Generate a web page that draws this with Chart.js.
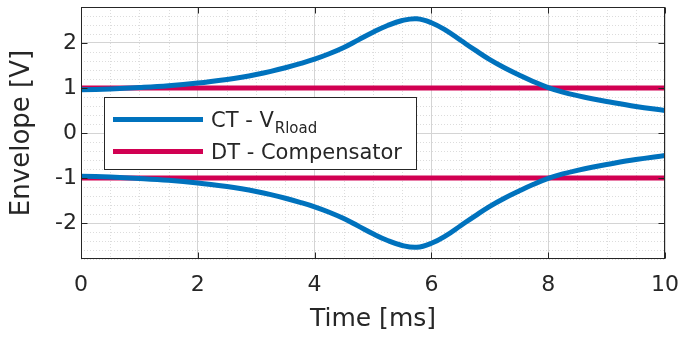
<!DOCTYPE html>
<html><head><meta charset="utf-8">
<script src="https://cdn.jsdelivr.net/npm/chart.js@4"></script>
<style>html,body{margin:0;padding:0;background:#fff}canvas{display:block}</style>
</head><body>
<canvas id="c" width="680" height="337"></canvas>
<script>
// ---- data ----
const timeMs  = [0, 0.5, 1, 1.5, 2, 2.5, 2.75, 3, 3.25, 3.5, 3.75, 4, 4.25, 4.5, 4.75, 5, 5.25, 5.5, 5.75, 6, 6.25, 6.5, 6.75, 7, 7.25, 7.5, 7.75, 8, 8.25, 8.5, 8.75, 9, 9.5, 10];
const ctUpper = [0.96, 0.98, 1.01, 1.05, 1.11, 1.19, 1.24, 1.30, 1.37, 1.45, 1.54, 1.64, 1.76, 1.90, 2.07, 2.24, 2.39, 2.50, 2.54, 2.45, 2.28, 2.06, 1.84, 1.63, 1.45, 1.29, 1.14, 1.01, 0.91, 0.83, 0.76, 0.70, 0.59, 0.50];
const ctLower = [-0.96, -0.98, -1.01, -1.05, -1.11, -1.19, -1.24, -1.30, -1.37, -1.45, -1.54, -1.64, -1.76, -1.90, -2.07, -2.24, -2.39, -2.50, -2.54, -2.45, -2.28, -2.06, -1.84, -1.63, -1.45, -1.29, -1.14, -1.01, -0.91, -0.83, -0.76, -0.70, -0.59, -0.50];
const dtTime  = [0, 10];
const dtUpper = [1, 1];
const dtLower = [-1, -1];
const xTicks = [0, 2, 4, 6, 8, 10];
const yTicks = [-2, -1, 0, 1, 2];
const xRange = [0, 10];
const yRange = [-2.8, 2.8];
const xMinorStep = 0.5, yMinorStep = 0.2;
const legendMain = ['CT - V', 'DT - Compensator'];
const legendSub  = ['Rload', ''];
const xTitle = 'Time [ms]';
const yTitle = 'Envelope [V]';

// ---- styles ----
const FONT = '"DejaVu Sans", sans-serif';
const TXT = '#262626';
const BLUE = 'rgb(0,114,189)';
const RED  = 'rgb(209,0,82)';

const pts = (xs, ys) => xs.map((x, i) => ({x: x, y: ys[i]}));

const minorGrid = {
  id: 'minorGrid',
  beforeDatasetsDraw(chart) {
    const {ctx, chartArea: a, scales: {x, y}} = chart;
    ctx.save();
    ctx.strokeStyle = '#dcdcdc';
    ctx.lineWidth = 1;
    ctx.setLineDash([1, 2]);
    const nx = Math.round((x.max - x.min) / xMinorStep);
    for (let i = 0; i <= nx; i++) {
      const v = x.min + i * xMinorStep;
      if (xTicks.some(t => Math.abs(t - v) < 1e-6)) continue;
      const p = Math.round(x.getPixelForValue(v)) + 0.5;
      ctx.beginPath(); ctx.moveTo(p, a.top); ctx.lineTo(p, a.bottom); ctx.stroke();
    }
    const ny = Math.round((y.max - y.min) / yMinorStep);
    for (let i = 0; i <= ny; i++) {
      const v = y.min + i * yMinorStep;
      if (yTicks.some(t => Math.abs(t - v) < 1e-6)) continue;
      const p = Math.round(y.getPixelForValue(v)) + 0.5;
      ctx.beginPath(); ctx.moveTo(a.left, p); ctx.lineTo(a.right, p); ctx.stroke();
    }
    ctx.restore();
  }
};

const frameAndLegend = {
  id: 'frameAndLegend',
  afterDraw(chart) {
    const {ctx, chartArea: a, scales: {x, y}} = chart;
    ctx.save();
    ctx.strokeStyle = TXT;
    ctx.lineWidth = 1;
    const L = Math.round(a.left) + 0.5, R = Math.round(a.right) - 0.5;
    const T = Math.round(a.top) + 0.5, B = Math.round(a.bottom) - 0.5;
    ctx.strokeRect(L, T, R - L, B - T);
    const tl = 6;
    ctx.beginPath();
    xTicks.forEach(v => {
      const p = Math.round(x.getPixelForValue(v)) + 0.5;
      ctx.moveTo(p, B); ctx.lineTo(p, B - tl);
      ctx.moveTo(p, T); ctx.lineTo(p, T + tl);
    });
    yTicks.forEach(v => {
      const p = Math.round(y.getPixelForValue(v)) + 0.5;
      ctx.moveTo(L, p); ctx.lineTo(L + tl, p);
      ctx.moveTo(R, p); ctx.lineTo(R - tl, p);
    });
    ctx.stroke();

    // legend
    const bx = 104.5, by = 97.5, bw = 312, bh = 72;
    ctx.fillStyle = '#fff';
    ctx.fillRect(bx, by, bw, bh);
    ctx.strokeStyle = TXT;
    ctx.strokeRect(bx, by, bw, bh);
    const colors = [BLUE, RED];
    const rows = [119.5, 151.5];
    rows.forEach((ry, i) => {
      ctx.strokeStyle = colors[i];
      ctx.lineWidth = 5;
      ctx.beginPath(); ctx.moveTo(113, ry); ctx.lineTo(203, ry); ctx.stroke();
      ctx.fillStyle = TXT;
      ctx.textBaseline = 'alphabetic';
      ctx.textAlign = 'left';
      ctx.font = '21px ' + FONT;
      ctx.fillText(legendMain[i], 211, ry + 7.5);
      if (legendSub[i]) {
        const w = ctx.measureText(legendMain[i]).width;
        ctx.font = '15px ' + FONT;
        ctx.fillText(legendSub[i], 211 + w + 1, ry + 13.5);
      }
    });
    ctx.restore();
  }
};

new Chart(document.getElementById('c'), {
  type: 'scatter',
  data: {
    datasets: [
      {data: pts(timeMs, ctUpper), showLine: true, borderColor: BLUE, borderWidth: 5, pointRadius: 0, tension: 0.4},
      {data: pts(timeMs, ctLower), showLine: true, borderColor: BLUE, borderWidth: 5, pointRadius: 0, tension: 0.4},
      {data: pts(dtTime, dtUpper), showLine: true, borderColor: RED, borderWidth: 5, pointRadius: 0},
      {data: pts(dtTime, dtLower), showLine: true, borderColor: RED, borderWidth: 5, pointRadius: 0}
    ]
  },
  options: {
    responsive: false,
    animation: false,
    devicePixelRatio: 1,
    layout: {padding: {top: 7, right: 15, left: 0, bottom: 0}},
    plugins: {legend: {display: false}, tooltip: {enabled: false}},
    scales: {
      x: {
        type: 'linear', min: xRange[0], max: xRange[1],
        afterBuildTicks: s => { s.ticks = xTicks.map(v => ({value: v})); },
        afterFit: s => { s.height = 78; s.paddingLeft = 0; s.paddingRight = 0; },
        grid: {color: '#d4d4d4', drawTicks: false},
        border: {display: false},
        ticks: {color: TXT, font: {family: FONT, size: 22}, padding: 13, maxRotation: 0, autoSkip: false},
        title: {display: true, text: xTitle, color: TXT, font: {family: FONT, size: 25, lineHeight: 1}, padding: {top: 0, bottom: 5}}
      },
      y: {
        type: 'linear', min: yRange[0], max: yRange[1],
        afterBuildTicks: s => { s.ticks = yTicks.map(v => ({value: v})); },
        afterFit: s => { s.width = 81; s.paddingTop = 0; s.paddingBottom = 0; },
        grid: {color: '#d4d4d4', drawTicks: false},
        border: {display: false},
        ticks: {color: TXT, font: {family: FONT, size: 22}, padding: 4, autoSkip: false},
        title: {display: true, text: yTitle, color: TXT, font: {family: FONT, size: 26, lineHeight: 1}, padding: {top: 9, bottom: 0}}
      }
    }
  },
  plugins: [minorGrid, frameAndLegend]
});
</script>
</body></html>
